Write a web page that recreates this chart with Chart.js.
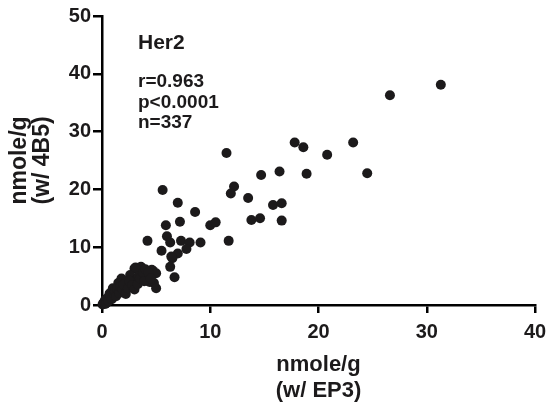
<!DOCTYPE html>
<html>
<head>
<meta charset="utf-8">
<script src="https://cdn.jsdelivr.net/npm/chart.js@4"></script>
<style>
  html, body { margin: 0; padding: 0; background: #fff; }
  #wrap { width: 549px; height: 406px; }
</style>
</head>
<body>
<div id="wrap"><canvas id="scatterChart" width="549" height="406"></canvas></div>
<script>
// values: EP3 (x) vs 4B5 (y), nmole/g
const EP3 = [
  31.3, 26.6, 17.8, 18.6, 23.2, 20.8, 11.5, 14.7, 16.4, 18.9, 24.5,
  13.5, 15.8, 16.6, 5.6, 12.2, 11.9, 7.0, 8.6, 7.2, 5.9, 10.0, 10.5,
  13.8, 14.6, 16.6, 6.0, 4.2, 6.3, 7.3, 8.1, 9.1, 11.7, 5.5, 7.8, 7.0,
  6.5, 6.3, 6.7, 4.7, 3.7, 6.4, 3.6, 3.0, 2.6, 4.1, 4.4, 4.8, 5.0,
  1.8, 1.5, 1.0, 0.7, 0.3, 2.3, 2.9, 3.2, 2.1, 4.6, 5.0, 2.7, 3.1,
  0.05, 0.1, 0.15, 0.2, 0.25, 0.3, 0.4, 0.5, 0.6, 0.8, 0.9, 1.1, 1.2,
  1.3, 1.4, 1.6, 1.7, 1.9, 2.0, 2.2, 2.4, 2.5, 2.8, 3.0, 3.3, 3.4,
  3.5, 3.8, 3.9, 4.0, 4.3, 4.5
];
const FOURB5 = [
  38.1, 36.3, 28.1, 27.3, 28.1, 26.0, 26.3, 22.5, 23.1, 22.7, 22.8,
  18.5, 17.3, 17.6, 19.9, 20.5, 19.3, 17.7, 16.1, 14.4, 13.8, 13.8, 14.3,
  14.7, 15.0, 14.6, 11.9, 11.1, 10.8, 11.1, 10.8, 10.8, 11.1, 9.4, 9.7, 8.9,
  8.1, 6.6, 4.8, 5.9, 6.3, 8.4, 6.6, 6.3, 5.2, 5.2, 4.0, 3.8, 2.9,
  4.6, 3.8, 2.9, 2.0, 0.9, 3.2, 3.8, 4.3, 2.3, 6.1, 5.5, 4.0, 6.5,
  0.1, 0.2, 0.3, 0.5, 0.6, 0.2, 0.3, 1.2, 0.7, 1.5, 1.0, 1.8, 2.4,
  1.5, 2.8, 2.1, 3.2, 2.7, 3.5, 1.9, 2.9, 4.2, 3.4, 2.7, 3.6, 5.0,
  4.6, 5.6, 4.1, 6.2, 5.6, 4.6
];
const X_TICKS = [0, 10, 20, 30, 40];
const Y_TICKS = [0, 10, 20, 30, 40, 50];
const X_TITLE = ['nmole/g', '(w/ EP3)'];
const Y_TITLE = ['nmole/g', '(w/ 4B5)'];
const GENE = 'Her2';
const STATS = ['r=0.963', 'p<0.0001', 'n=337'];

const FONT = '"Liberation Sans", Arial, Helvetica, sans-serif';
const INK = '#1c1a1b';

const notes = {
  id: 'notes',
  afterDraw(chart) {
    const c = chart.ctx;
    const a = chart.chartArea;
    c.save();
    c.fillStyle = INK;
    c.textAlign = 'left';
    c.textBaseline = 'alphabetic';
    c.font = 'bold 21px ' + FONT;
    c.fillText(GENE, a.left + 36, 49);
    c.font = 'bold 19px ' + FONT;
    STATS.forEach((s, i) => c.fillText(s, a.left + 36, 87 + i * 20.7));
    c.restore();
  }
};

let points = EP3.map((x, i) => ({ x: x, y: FOURB5[i] }));

let ctx = document.getElementById('scatterChart').getContext('2d');
let chart = new Chart(ctx, {
    type: 'scatter',
    data: {
        datasets: [{
            data: points,
            backgroundColor: INK,
            borderColor: INK,
            borderWidth: 0,
            pointRadius: 5,
            clip: false
        }]
    },
    options: {
        responsive: false,
        animation: false,
        devicePixelRatio: 1,
        plugins: {
            legend: { display: false },
            tooltip: { enabled: false }
        },
        layout: {
            padding: { left: 0, right: 14, top: 16, bottom: 0 }
        },
        scales: {
            x: {
                type: 'linear',
                min: 0,
                max: 40,
                afterFit: s => {
                    s.height = 101;
                    s.paddingLeft = 0;
                    s.paddingRight = 0;
                },
                afterBuildTicks: s => { s.ticks = X_TICKS.map(v => ({ value: v })); },
                border: { color: '#000', width: 2.5 },
                grid: {
                    drawOnChartArea: false,
                    drawTicks: true,
                    tickLength: 8,
                    color: '#000',
                    lineWidth: 2.5
                },
                ticks: {
                    color: INK,
                    padding: 7,
                    maxRotation: 0,
                    font: { family: FONT, size: 20, weight: 'bold' }
                },
                title: {
                    display: true,
                    text: X_TITLE,
                    color: INK,
                    padding: { top: 0, bottom: 3 },
                    font: { family: FONT, size: 22, weight: 'bold', lineHeight: 1.14 }
                }
            },
            y: {
                type: 'linear',
                min: 0,
                max: 50,
                afterFit: s => {
                    s.width = 102;
                    s.paddingTop = 0;
                    s.paddingBottom = 0;
                },
                afterBuildTicks: s => { s.ticks = Y_TICKS.map(v => ({ value: v })); },
                border: { color: '#000', width: 2.5 },
                grid: {
                    drawOnChartArea: false,
                    drawTicks: true,
                    tickLength: 9,
                    color: '#000',
                    lineWidth: 2.5
                },
                ticks: {
                    color: INK,
                    padding: 2,
                    font: { family: FONT, size: 20, weight: 'bold' }
                },
                title: {
                    display: true,
                    text: Y_TITLE,
                    color: INK,
                    padding: { top: 8, bottom: 0 },
                    font: { family: FONT, size: 23, weight: 'bold', lineHeight: 1.0 }
                }
            }
        }
    },
    plugins: [notes]
});
</script>
</body>
</html>
